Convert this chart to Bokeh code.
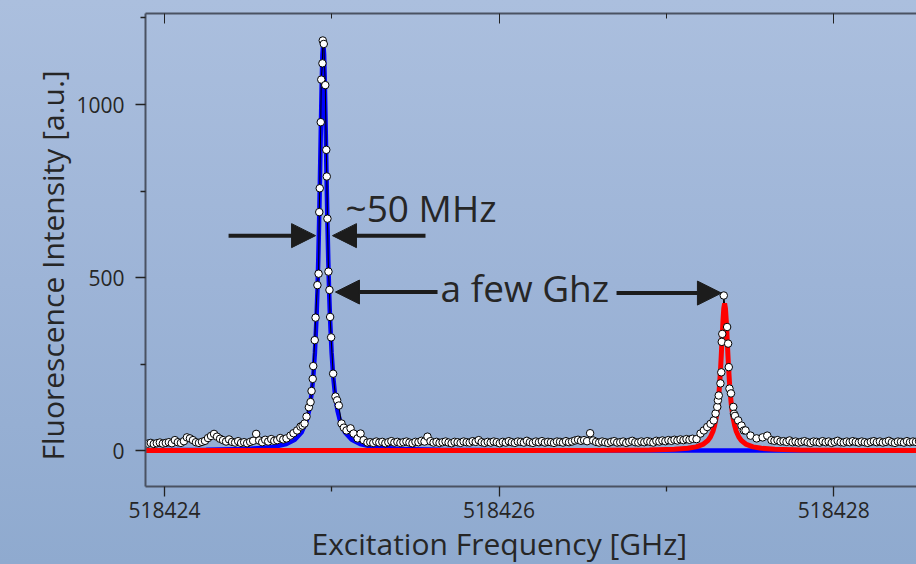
import math
from bokeh.plotting import figure
from bokeh.models import Range1d, LinearAxis, FixedTicker, Arrow, NormalHead, Label, Title
from bokeh.embed import file_html
from bokeh.resources import INLINE

# ---------------- data ----------------
x_ticks = [518424, 518426, 518428]
x_tick_labels = ["518424", "518426", "518428"]
x_minor = [518425, 518427]
y_ticks = [0, 500, 1000]
y_tick_labels = ["0", "500", "1000"]
y_minor = [250, 750, 1250]

scan_step = 0.018  # GHz, frequency step of the baseline scan

left_start = 518423.90
left_vals = [20, 22, 19, 21, 23, 20, 22, 24, 21, 30, 24, 22, 27, 38, 35, 30, 24, 22, 25, 28,
             36, 42, 48, 40, 34, 30, 26, 32, 25, 23, 27, 22, 24, 21, 25, 28, 48, 29, 24, 31,
             26, 33, 28, 30, 36, 32]

mid_start = 518425.23
mid_vals = [24, 22, 26, 23, 25, 21, 24, 27, 23, 25,
            22, 24, 26, 23, 21, 25, 24, 28, 26, 40,
            27, 23, 25, 22, 24, 26, 23, 21, 25, 24,
            22, 26, 24, 23, 27, 25, 30, 24, 22, 25,
            23, 26, 24, 21, 25, 23, 27, 24, 22, 26,
            25, 23, 28, 24, 22, 26, 24, 27, 23, 25,
            24, 22, 26, 25, 23, 27, 24, 26, 29, 31,
            28, 30, 27, 50, 29, 25, 23, 26, 24, 22,
            25, 27, 23, 24, 26, 22, 25, 28, 24, 23,
            26, 24, 27, 25, 23, 28, 26, 29, 27, 30,
            28, 31, 29, 32, 30, 33, 31, 34]

right_start = 518427.646
right_vals = [28, 30, 26, 27, 25, 29, 24, 26, 23, 25, 27, 24, 22, 26, 25, 23, 27, 24, 26, 22,
              25, 28, 24, 23, 26, 24, 27, 25, 23, 26, 24, 22, 25, 27, 24, 26, 23, 25, 28, 24,
              22, 26, 25, 23, 27, 24, 26, 25, 27, 24, 26]

blue_peak_freq = [518424.729, 518424.753, 518424.771, 518424.793, 518424.813, 518424.825,
                  518424.837, 518424.849, 518424.863, 518424.873, 518424.879, 518424.886,
                  518424.889, 518424.898, 518424.903, 518424.914, 518424.921, 518424.925,
                  518424.928, 518424.934, 518424.937, 518424.944, 518424.946, 518424.952,
                  518424.961, 518424.967, 518424.970, 518424.974, 518424.980, 518424.986,
                  518424.990, 518424.996, 518425.008, 518425.022, 518425.032, 518425.042,
                  518425.058, 518425.072, 518425.088, 518425.112, 518425.130, 518425.154,
                  518425.172, 518425.190, 518425.213]
blue_peak_vals = [35, 43, 50, 58, 69, 72, 78, 98, 125, 140, 172, 207, 244, 319, 384, 478, 511,
                  689, 758, 949, 1072, 1119, 1185, 1175, 1056, 869, 792, 670, 517, 464, 386,
                  327, 222, 156, 145, 130, 78, 66, 58, 64, 49, 35, 49, 30, 23]

red_peak_freq = [518427.180, 518427.204, 518427.224, 518427.244, 518427.264, 518427.283,
                 518427.294, 518427.304, 518427.308, 518427.313, 518427.323, 518427.328,
                 518427.331, 518427.334, 518427.343, 518427.363, 518427.369, 518427.373,
                 518427.377, 518427.386, 518427.400, 518427.404, 518427.410, 518427.429,
                 518427.449, 518427.463, 518427.473, 518427.503, 518427.539, 518427.575,
                 518427.603, 518427.628]
red_peak_vals = [33, 49, 58, 68, 77, 87, 107, 126, 145, 159, 194, 226, 314, 337, 448, 357, 309,
                 241, 179, 165, 126, 106, 100, 87, 72, 58, 58, 43, 35, 38, 43, 30]

# Lorentzian fits, offsets from the line centre in GHz
fit_dx = [0, 0.005, 0.01, 0.015, 0.02, 0.025, 0.03, 0.035, 0.04, 0.05, 0.06, 0.07, 0.085,
          0.1, 0.13, 0.17, 0.22, 0.3, 0.45, 0.7, 1.2, 2.0, 3.6]
blue_center = 518424.949
blue_fit_vals = [1180, 1144, 1046, 917, 781, 657, 549, 460, 388, 282, 211, 163, 115, 86, 52,
                 31, 19, 10, 4.6, 1.9, 0.6, 0.2, 0.1]
red_center = 518427.348
red_fit_vals = [425, 411, 374, 325, 274, 229, 190, 159, 133, 96, 72, 55, 39, 29, 17.6, 10.5,
                6.3, 3.4, 1.5, 0.6, 0.2, 0.1, 0.0]

# ---------------- assemble ----------------
pts = []
pts += [(left_start + scan_step * i, v) for i, v in enumerate(left_vals)]
pts += list(zip(blue_peak_freq, blue_peak_vals))
pts += [(mid_start + scan_step * i, v) for i, v in enumerate(mid_vals)]
pts += list(zip(red_peak_freq, red_peak_vals))
pts += [(right_start + scan_step * i, v) for i, v in enumerate(right_vals)]
pts.sort()
data_x = [a for a, b in pts]
data_y = [b for a, b in pts]


def mirror(center, vals):
    xs = [center - d for d in reversed(fit_dx[1:])] + [center + d for d in fit_dx]
    ys = list(reversed(vals[1:])) + list(vals)
    return xs, ys


bx, by = mirror(blue_center, blue_fit_vals)
rx, ry = mirror(red_center, red_fit_vals)

# ---------------- figure ----------------
FONT = "Open Sans"
TXT = "#262626"
AX = "#4a5262"

p = figure(width=916, height=564,
           x_range=Range1d(518423.8864, 518428.495),
           y_range=Range1d(-104, 1263),
           output_backend="svg", toolbar_location=None,
           min_border_left=145, min_border_right=0, min_border_top=13, min_border_bottom=78,
           background_fill_alpha=0, border_fill_alpha=0, outline_line_color=None)
p.xgrid.visible = False
p.ygrid.visible = False

xt = FixedTicker(ticks=x_ticks, minor_ticks=x_minor)
yt = FixedTicker(ticks=y_ticks, minor_ticks=y_minor)

xa = p.xaxis[0]
xa.ticker = xt
xa.major_label_overrides = {t: l for t, l in zip(x_ticks, x_tick_labels)}
ya = p.yaxis[0]
ya.ticker = yt
ya.major_label_overrides = {t: l for t, l in zip(y_ticks, y_tick_labels)}

for ax in (xa, ya):
    ax.axis_line_color = AX
    ax.axis_line_width = 2
    ax.major_tick_line_color = "#222222"
    ax.minor_tick_line_color = "#222222"
    ax.major_tick_line_width = 1.3
    ax.minor_tick_line_width = 1.3
    ax.major_tick_in = 0
    ax.major_tick_out = 10
    ax.minor_tick_in = 0
    ax.minor_tick_out = 5
    ax.major_label_text_font = FONT
    ax.major_label_text_font_size = "21px"
    ax.major_label_text_color = TXT
xa.major_label_standoff = 5
ya.major_label_standoff = 11

top = LinearAxis(ticker=xt, axis_line_color=AX, axis_line_width=2,
                 major_tick_in=10, major_tick_out=0, minor_tick_in=5, minor_tick_out=0,
                 major_tick_line_color="#222222", minor_tick_line_color="#222222",
                 major_label_text_font_size="0px", major_label_text_alpha=0,
                 major_label_standoff=0)
p.add_layout(top, "above")

p.line(bx, by, line_color="#0000ff", line_width=4.5)
p.line(data_x, data_y, line_color="black", line_width=1)
p.line(rx, ry, line_color="#ff0000", line_width=5)
p.scatter(data_x, data_y, size=7.5, fill_color="white", line_color="black", line_width=1)

# axis titles
p.add_layout(Title(text="Excitation Frequency [GHz]", align="left", offset=166,
                   text_font=FONT, text_font_size="30px", text_color=TXT,
                   text_font_style="normal", standoff=0), "below")
p.add_layout(Title(text="Fluorescence Intensity [a.u.]", align="left", offset=26,
                   text_font=FONT, text_font_size="30px", text_color=TXT,
                   text_font_style="normal", standoff=2), "left")

# annotations
AC = "#1c1c1c"
for xs, xe, yy in [(518424.383, 518424.903, 621), (518425.560, 518425.004, 621),
                   (518425.632, 518425.022, 458), (518426.702, 518427.329, 455)]:
    p.add_layout(Arrow(end=NormalHead(size=24, fill_color=AC, line_color=AC),
                       x_start=xs, y_start=yy, x_end=xe, y_end=yy,
                       line_color=AC, line_width=4))

p.add_layout(Label(x=518425.082, y=701, text="~50 MHz", text_font=FONT, text_font_size="37px",
                   text_color=TXT, text_align="left", text_baseline="alphabetic"))
p.add_layout(Label(x=518425.650, y=470, text="a few Ghz", text_font=FONT, text_font_size="37px",
                   text_color=TXT, text_align="left", text_baseline="alphabetic"))

html = file_html(p, INLINE)
style = ("<style>html{height:100%;background:linear-gradient(180deg,#abbfde 0%,#9db4d7 50%,#8faacf 100%);}"
         "body{background:transparent;}</style></head>")
html = html.replace("</head>", style, 1)
open("out.html", "w").write(html)
